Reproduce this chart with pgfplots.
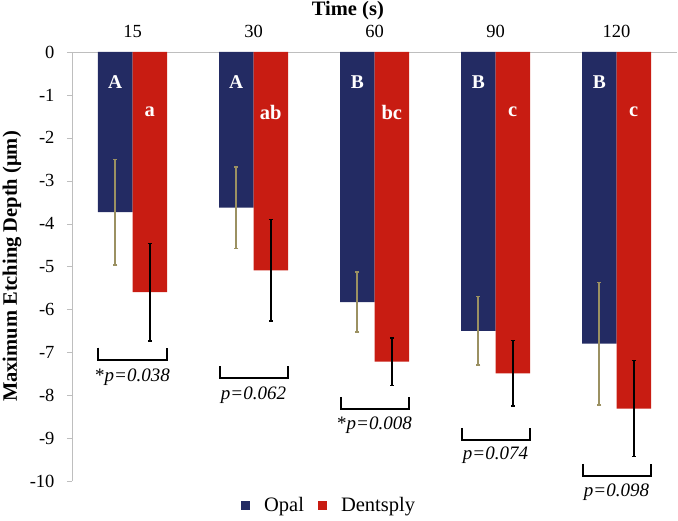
\documentclass[border=0pt]{standalone}
\usepackage{pgfplots}
\pgfplotsset{compat=1.18}
\usepackage{fontspec}
\setmainfont{Liberation Serif}

\definecolor{opal}{RGB}{35,43,99}
\definecolor{dent}{RGB}{200,28,18}
\definecolor{olive}{RGB}{155,145,98}
\definecolor{axgray}{RGB}{190,190,190}

% mean and sd of maximum etching depth (um), x = time group 1..5
\pgfplotstableread{
x  mean   sd
1  -3.73  1.23
2  -3.63  0.95
3  -5.83  0.70
4  -6.50  0.80
5  -6.80  1.43
}\opaltab
\pgfplotstableread{
x  mean   sd
1  -5.60  1.14
2  -5.09  1.18
3  -7.22  0.55
4  -7.49  0.76
5  -8.31  1.12
}\denttab

\newcommand{\fs}{\fontsize{18.5}{20}\selectfont}
\newcommand{\fp}{\fontsize{19}{20}\selectfont}
\newcommand{\fl}{\fontsize{20.5}{22}\selectfont}
\tikzset{
  up/.style={white, font=\fontsize{19.5}{20}\selectfont\bfseries, xshift=-17.25pt},
  lo/.style={white, font=\fontsize{20.5}{20}\selectfont\bfseries, xshift=17.25pt},
  brk/.style={black, line width=2pt},
}
% bracket under group #1 with its bottom at #2
\newcommand{\brk}[2]{%
  \draw[brk] ([xshift=-34pt]axis cs:#1,#2+0.28) -- ([xshift=-34pt]axis cs:#1,#2)
    -- ([xshift=34pt]axis cs:#1,#2) -- ([xshift=34pt]axis cs:#1,#2+0.28);}

\begin{document}
\begin{tikzpicture}
\begin{axis}[
    scale only axis,
    width=605pt, height=429pt,
    ybar=0pt, bar width=34.5pt,
    xmin=0.5, xmax=5.5,
    ymin=-10, ymax=0,
    xtick={1,2,3,4,5},
    xticklabels={15,30,60,90,120},
    xtick style={draw=none},
    extra x ticks={1.5,2.5,3.5,4.5,5.5},
    extra x tick labels={},
    extra x tick style={major tick length=5pt, tick align=inside, tick style={draw=axgray}},
    ytick={0,-1,...,-10},
    ytick style={axgray},
    major tick length=5pt,
    tick align=outside,
    axis x line*=top,
    axis y line*=left,
    axis line style={axgray},
    every tick label/.append style={font=\fs, black},
    x tick label style={yshift=5.5pt},
    y tick label style={xshift=-9pt},
    /pgf/number format/assume math mode=true,
    clip=false,
    legend style={font=\fl, draw=none, at={(0.425,-0.056)}, anchor=center,
                  legend columns=2, column sep=12pt},
    legend image code/.code={\fill[#1] (0pt,-4.5pt) rectangle (9pt,4.5pt);},
]
\addplot[fill=opal, draw=none,
  error bars/.cd, y dir=both, y explicit,
  error bar style={olive, line width=2.2pt},
  error mark options={olive, line width=1.5pt, mark size=2pt, rotate=90}]
  table[x=x, y=mean, y error=sd] {\opaltab};
\addlegendentry{Opal}
\addplot[fill=dent, draw=none,
  error bars/.cd, y dir=both, y explicit,
  error bar style={black, line width=2.4pt},
  error mark options={black, line width=1.5pt, mark size=2pt, rotate=90}]
  table[x=x, y=mean, y error=sd] {\denttab};
\addlegendentry{Dentsply}

% group letters
\node[up] at (axis cs:1,-0.7) {A};
\node[up] at (axis cs:2,-0.7) {A};
\node[up] at (axis cs:3,-0.7) {B};
\node[up] at (axis cs:4,-0.7) {B};
\node[up] at (axis cs:5,-0.7) {B};
\node[lo] at (axis cs:1,-1.4) {a};
\node[lo] at (axis cs:2,-1.4) {ab};
\node[lo] at (axis cs:3,-1.4) {bc};
\node[lo] at (axis cs:4,-1.4) {c};
\node[lo] at (axis cs:5,-1.4) {c};

% brackets and p values
\brk{1}{-7.17}
\brk{2}{-7.60}
\brk{3}{-8.32}
\brk{4}{-9.04}
\brk{5}{-9.88}
\node[font=\fp] at (axis cs:1,-7.57) {*\textit{p=0.038}};
\node[font=\fp] at (axis cs:2,-7.99) {\textit{p=0.062}};
\node[font=\fp] at (axis cs:3,-8.69) {*\textit{p=0.008}};
\node[font=\fp] at (axis cs:4,-9.39) {\textit{p=0.074}};
\node[font=\fp] at (axis cs:5,-10.25) {\textit{p=0.098}};

\node[font=\fl\bfseries] at ([yshift=41pt]rel axis cs:0.456,1) {Time (s)};
\node[font=\fontsize{20.5}{22}\selectfont\bfseries, rotate=90]
  at ([xshift=-60pt]rel axis cs:0,0.5) {Maximum Etching Depth (μm)};

\coordinate (bl) at (rel axis cs:0,0);
\coordinate (tr) at (rel axis cs:1,1);
\end{axis}
\pgfresetboundingbox
\path ([xshift=-72pt,yshift=-39pt]bl) rectangle ([xshift=1pt,yshift=52pt]tr);
\end{tikzpicture}
\end{document}
